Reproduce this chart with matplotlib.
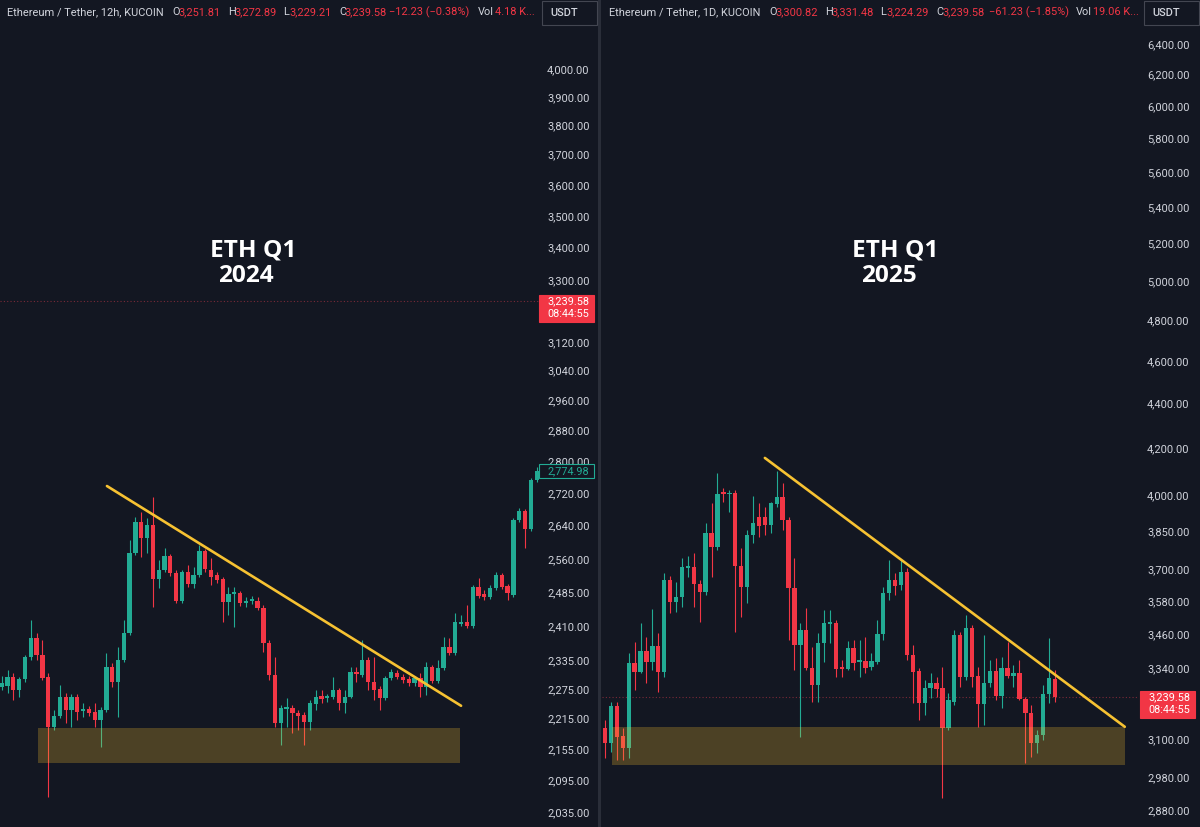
import numpy as np
import matplotlib.pyplot as plt
from matplotlib.patches import Rectangle
from matplotlib.ticker import NullLocator, NullFormatter

# colours (tradingview dark)
bg = '#131722'
up_col = '#22ab94'
dn_col = '#f23645'
txt_col = '#d1d4dc'
trend_col = '#f7c232'
zone_col = '#f9c02f'

# ETH/USDT 12h, Q1 2024
eth24_open = [2279, 2281, 2300, 2273, 2296, 2343, 2383, 2347, 2300, 2198,
              2220, 2259, 2232, 2259, 2230, 2234, 2228, 2212, 2232, 2321,
              2290, 2336, 2394, 2575, 2649, 2611, 2642, 2515, 2536, 2568,
              2529, 2465, 2531, 2504, 2524, 2580, 2536, 2524, 2515, 2463,
              2481, 2483, 2460, 2465, 2465, 2450, 2372, 2305, 2206, 2234,
              2236, 2226, 2222, 2208, 2245, 2261, 2257, 2259, 2273, 2247,
              2259, 2311, 2305, 2336, 2290, 2275, 2257, 2298, 2309, 2300,
              2296, 2288, 2298, 2279, 2321, 2292, 2319, 2364, 2351, 2414,
              2419, 2410, 2497, 2481, 2474, 2495, 2524, 2499, 2479, 2654,
              2676, 2632, 2752]
eth24_high = [2302, 2315, 2309, 2300, 2347, 2423, 2394, 2379, 2309, 2232,
              2284, 2267, 2265, 2265, 2247, 2240, 2247, 2238, 2351, 2330,
              2364, 2423, 2606, 2661, 2673, 2659, 2710, 2559, 2587, 2573,
              2536, 2536, 2547, 2543, 2594, 2584, 2564, 2531, 2520, 2497,
              2497, 2488, 2474, 2476, 2474, 2456, 2379, 2343, 2242, 2257,
              2242, 2232, 2228, 2253, 2273, 2273, 2265, 2300, 2277, 2273,
              2321, 2321, 2379, 2343, 2343, 2281, 2302, 2317, 2315, 2307,
              2302, 2302, 2309, 2332, 2326, 2336, 2386, 2383, 2438, 2434,
              2456, 2502, 2518, 2490, 2502, 2531, 2529, 2504, 2659, 2683,
              2681, 2757, 2785]
eth24_low = [2273, 2267, 2253, 2259, 2290, 2336, 2336, 2294, 2063, 2192,
             2216, 2206, 2198, 2212, 2218, 2220, 2198, 2159, 2228, 2279,
             2218, 2332, 2390, 2570, 2566, 2575, 2452, 2495, 2531, 2522,
             2460, 2460, 2497, 2495, 2520, 2531, 2502, 2506, 2419, 2434,
             2408, 2454, 2452, 2458, 2445, 2354, 2294, 2198, 2163, 2198,
             2186, 2192, 2163, 2192, 2232, 2247, 2249, 2255, 2232, 2226,
             2257, 2290, 2300, 2273, 2253, 2232, 2253, 2294, 2296, 2288,
             2281, 2281, 2259, 2263, 2288, 2288, 2315, 2347, 2347, 2410,
             2405, 2405, 2472, 2467, 2470, 2490, 2492, 2467, 2474, 2649,
             2587, 2628, 2748]
eth24_close = [2288, 2300, 2273, 2296, 2343, 2383, 2347, 2298, 2198, 2220,
               2259, 2232, 2259, 2228, 2234, 2226, 2212, 2232, 2321, 2290,
               2336, 2394, 2575, 2649, 2611, 2642, 2515, 2536, 2568, 2529,
               2465, 2531, 2504, 2524, 2580, 2538, 2520, 2513, 2463, 2481,
               2486, 2460, 2465, 2470, 2450, 2372, 2305, 2206, 2236, 2238,
               2226, 2220, 2208, 2247, 2259, 2255, 2261, 2273, 2247, 2259,
               2311, 2307, 2336, 2290, 2273, 2257, 2298, 2311, 2300, 2294,
               2288, 2298, 2279, 2321, 2292, 2319, 2364, 2351, 2419, 2419,
               2410, 2497, 2476, 2474, 2495, 2524, 2497, 2483, 2654, 2676,
               2632, 2752, 2775]

# ETH/USDT 1D, Q1 2025
eth25_open = [3138, 3088, 3210, 3111, 3072, 3358, 3326, 3400, 3361, 3418,
              3326, 3661, 3578, 3596, 3707, 3711, 3646, 3615, 3844, 3789,
              4011, 4003, 4007, 3715, 3634, 3836, 3909, 3909, 3877, 3963,
              3991, 3897, 3630, 3421, 3475, 3340, 3281, 3428, 3497, 3500,
              3344, 3337, 3410, 3361, 3365, 3344, 3361, 3461, 3612, 3661,
              3642, 3692, 3386, 3330, 3220, 3271, 3288, 3271, 3138, 3223,
              3457, 3309, 3482, 3312, 3217, 3288, 3330, 3244, 3340, 3312,
              3323, 3234, 3187, 3088, 3115, 3250, 3300.82]
eth25_high = [3164, 3223, 3223, 3138, 3392, 3432, 3500, 3450, 3552, 3464,
              3688, 3676, 3653, 3746, 3754, 3765, 3661, 3885, 3967, 4092,
              4028, 4020, 4020, 3785, 3856, 3995, 3967, 3950, 3971, 4101,
              4050, 3909, 3746, 3500, 3555, 3414, 3464, 3548, 3548, 3511,
              3368, 3435, 3439, 3439, 3450, 3393, 3511, 3634, 3738, 3688,
              3738, 3707, 3421, 3340, 3298, 3323, 3309, 3344, 3254, 3475,
              3468, 3529, 3493, 3344, 3457, 3368, 3375, 3379, 3432, 3351,
              3368, 3240, 3213, 3131, 3281, 3446, 3331.48]
eth25_low = [3040, 3060, 3034, 3034, 3040, 3264, 3323, 3288, 3333, 3257,
             3308, 3537, 3541, 3559, 3672, 3559, 3504, 3604, 3672, 3777,
             3971, 3930, 3468, 3522, 3574, 3804, 3828, 3836, 3844, 3950,
             3856, 3439, 3333, 3108, 3333, 3223, 3223, 3361, 3428, 3309,
             3309, 3333, 3333, 3309, 3323, 3333, 3354, 3439, 3585, 3604,
             3623, 3368, 3220, 3164, 3180, 3237, 3240, 2917, 3131, 3213,
             3274, 3298, 3274, 3141, 3148, 3274, 3230, 3203, 3305, 3274,
             3230, 3025, 3044, 3057, 3098, 3220, 3224.29]
eth25_close = [3088, 3210, 3108, 3072, 3358, 3326, 3400, 3361, 3418, 3326,
               3661, 3578, 3596, 3711, 3715, 3646, 3615, 3844, 3789, 4003,
               4003, 4007, 3715, 3634, 3836, 3885, 3873, 3877, 3967, 3991,
               3897, 3630, 3421, 3475, 3340, 3281, 3428, 3500, 3504, 3337,
               3337, 3410, 3358, 3368, 3340, 3365, 3461, 3612, 3661, 3638,
               3692, 3386, 3326, 3220, 3271, 3288, 3268, 3138, 3230, 3457,
               3309, 3482, 3309, 3217, 3288, 3330, 3244, 3340, 3312, 3323,
               3234, 3187, 3088, 3115, 3250, 3305, 3239.58]

# price scale ticks shown by tradingview
eth24_ticks = [2035, 2095, 2155, 2215, 2275, 2335, 2410, 2485, 2560, 2640,
               2720, 2800, 2880, 2960, 3040, 3120, 3300, 3400, 3500, 3600,
               3700, 3800, 3900, 4000]
eth25_ticks = [2880, 2980, 3100, 3340, 3460, 3580, 3700, 3850, 4000, 4200,
               4400, 4600, 4800, 5000, 5200, 5400, 5600, 5800, 6000, 6200,
               6400]

last_price = 3239.58
countdown = '08:44:55'
eth24_prev_high = 2774.98

# drawn trendlines (bar index, price) and support zones
eth24_trend = ([18.1, 79.0], [2737, 2241])
eth25_trend = ([27.0, 87.8], [4157, 3141])
eth24_zone = (6.2, 78.8, 2127, 2196)
eth25_zone = (1.1, 87.8, 3017, 3139)

eth24_header = [('Ethereum / Tether, 12h, KUCOIN', txt_col), ('O', txt_col), ('3,251.81', dn_col),
                ('H', txt_col), ('3,272.89', dn_col), ('L', txt_col), ('3,229.21', dn_col),
                ('C', txt_col), ('3,239.58', dn_col), ('\u221212.23 (\u22120.38%)', dn_col),
                ('Vol', txt_col), ('4.18 K...', dn_col)]
eth25_header = [('Ethereum / Tether, 1D, KUCOIN', txt_col), ('O', txt_col), ('3,300.82', dn_col),
                ('H', txt_col), ('3,331.48', dn_col), ('L', txt_col), ('3,224.29', dn_col),
                ('C', txt_col), ('3,239.58', dn_col), ('\u221261.23 (\u22121.85%)', dn_col),
                ('Vol', txt_col), ('19.06 K...', dn_col)]

plt.rcParams['font.family'] = ['Roboto', 'DejaVu Sans']

W, H = 1200, 827
fig = plt.figure(figsize=(12, 8.27), dpi=100)
fig.patch.set_facecolor(bg)


def fx(x):
    return x / W


def fy(y):
    return 1 - y / H


def candles(ax, o, h, l, c):
    o, h, l, c = map(np.asarray, (o, h, l, c))
    x = np.arange(len(o))
    col = np.where(c >= o, up_col, dn_col)
    ax.vlines(x, l, h, colors=col, lw=0.8, zorder=2)
    lo = np.minimum(o, c)
    hi = np.maximum(o, c)
    ax.bar(x, hi - lo, bottom=lo, width=0.74, color=col, linewidth=0, zorder=3)


def panel(x0, x1, ylim, xlim, ticks):
    ax = fig.add_axes([fx(x0), 0, (x1 - x0) / W, 1])
    ax.set_facecolor(bg)
    ax.set_yscale('log')
    ax.set_ylim(*ylim)
    ax.set_xlim(*xlim)
    for s in ax.spines.values():
        s.set_visible(False)
    ax.set_xticks([])
    ax.yaxis.tick_right()
    ax.set_yticks(ticks, labels=['{:,.2f}'.format(t) for t in ticks])
    ax.yaxis.set_minor_locator(NullLocator())
    ax.yaxis.set_minor_formatter(NullFormatter())
    ax.tick_params(axis='y', length=0, pad=5.8, labelsize=7.9, labelcolor=txt_col)
    return ax


def y_px(ax, price):
    return H - ax.transData.transform((0, price))[1]


def header(items, xs, usdt_x):
    for (t, col), x in zip(items, xs):
        fig.text(fx(x), fy(12), t, color=col, fontsize=7.9, va='center', ha='left')
    fig.patches.append(Rectangle((fx(usdt_x), fy(25)), 55 / W, 24 / H, transform=fig.transFigure,
                                 facecolor=bg, edgecolor='#434651', lw=0.8))
    fig.text(fx(usdt_x + 8), fy(12.5), 'USDT', color=txt_col, fontsize=7.9, va='center',
             ha='left', fontweight='medium')


def price_tag(ax, x_left, price, lines, face, edge, tcol, h_above, h_below):
    yp = y_px(ax, price)
    fig.patches.append(Rectangle((fx(x_left), fy(yp + h_below)), 55 / W, (h_above + h_below) / H,
                                 transform=fig.transFigure, facecolor=face, edgecolor=edge,
                                 lw=0.8, zorder=5))
    for k, t in enumerate(lines):
        fig.text(fx(x_left + 8), fy(yp + 13 * k), t, color=tcol, fontsize=7.8,
                 va='center', ha='left', zorder=6)


# ---- left panel: 2024 ----
ax1 = panel(0, 539, (2007, 4259), (-0.29, 92.4), eth24_ticks)
candles(ax1, eth24_open, eth24_high, eth24_low, eth24_close)
ax1.axhline(last_price, color='#7a2a38', lw=0.8, ls=(0, (1, 2)), zorder=1)
ax1.plot(*eth24_trend, color=trend_col, lw=1.9, solid_capstyle='round', zorder=4)
z = eth24_zone
ax1.add_patch(Rectangle((z[0], z[2]), z[1] - z[0], z[3] - z[2], facecolor=zone_col,
                        alpha=0.25, linewidth=0, zorder=4))

# ---- right panel: 2025 ----
ax2 = panel(602, 1139, (2829.5, 6700), (-0.51, 90.2), eth25_ticks)
candles(ax2, eth25_open, eth25_high, eth25_low, eth25_close)
ax2.axhline(last_price, color='#7a2a38', lw=0.8, ls=(0, (1, 2)), zorder=1)
ax2.plot(*eth25_trend, color=trend_col, lw=1.9, solid_capstyle='round', zorder=4)
z = eth25_zone
ax2.add_patch(Rectangle((z[0], z[2]), z[1] - z[0], z[3] - z[2], facecolor=zone_col,
                        alpha=0.25, linewidth=0, zorder=4))

# divider between the two charts
fig.patches.append(Rectangle((fx(598), 0), 3 / W, 1, transform=fig.transFigure,
                             facecolor='#2a2e39', lw=0))

# headers
xs24 = [7, 172, 178, 228, 234, 283, 289, 339, 344, 389, 478, 495]
xs25 = [609, 769, 775, 825, 831, 880, 886, 936, 942, 989, 1076, 1093]
header(eth24_header, xs24, 542)
header(eth25_header, xs25, 1144)

# price tags on the scales
price_tag(ax1, 539, eth24_prev_high, ['{:,.2f}'.format(eth24_prev_high)], bg, up_col, up_col, 7, 7)
price_tag(ax1, 539, last_price, ['{:,.2f}'.format(last_price), countdown], dn_col, dn_col, 'white', 6, 21)
price_tag(ax2, 1140, last_price, ['{:,.2f}'.format(last_price), countdown], dn_col, dn_col, 'white', 6, 21)

# big labels
for x, y, t in [(210, 257, 'ETH Q1'), (218, 282, '2024'), (852, 257, 'ETH Q1'), (861, 282, '2025')]:
    fig.text(fx(x), fy(y), t, color='white', fontsize=17.6, fontweight='bold',
             family=['Open Sans', 'DejaVu Sans'], va='baseline', ha='left')

fig.savefig('out.png', dpi=100, facecolor=bg)
